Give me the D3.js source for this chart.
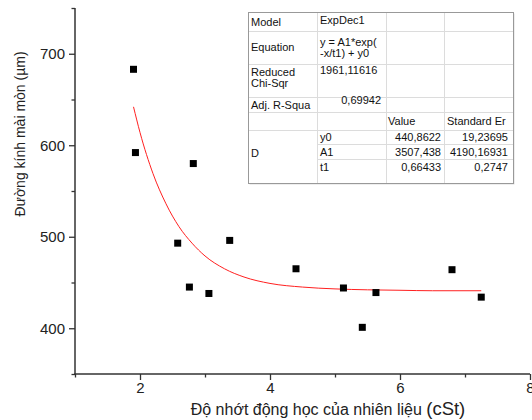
<!DOCTYPE html>
<html><head><meta charset="utf-8">
<script src="https://cdn.jsdelivr.net/npm/d3@7"></script>
<style>body{margin:0;background:#fff;}svg{display:block;font-family:"Liberation Sans",Arial,sans-serif;}</style>
</head><body>
<svg id="c" width="532" height="420"></svg>
<script>
// Data points (viscosity cSt, wear scar diameter µm)
const xVals = [1.90, 1.93, 2.82, 2.58, 3.38, 2.76, 3.06, 4.40, 5.13, 5.63, 5.42, 6.80, 7.25];
const yVals = [683, 592, 580, 493, 496, 445, 438, 465, 444, 439, 401, 464, 434];
// Fitted ExpDec1 curve
const fitX = [1.9, 2.0, 2.2, 2.4, 2.6, 2.8, 3.0, 3.3, 3.6, 4.0, 4.5, 5.0, 5.5, 6.0, 6.5, 7.0, 7.25];
const fitY = [642, 614, 569, 536, 511, 493, 479, 465, 456, 449, 445, 443, 442, 441.5, 441, 441, 441];
const xMajor = [2, 4, 6, 8];
const xMinor = [1, 3, 5, 7];
const yMajor = [400, 500, 600, 700];
const yMinor = [350, 450, 550, 650, 750];
const xTitle = "Độ nhớt động học của nhiên liệu ";
const xTitleUnit = "(cSt)";
const yTitle = "Đường kính mài mòn (µm)";
// Fit result table
const tableCol1 = ["Model", "Equation", "Reduced\nChi-Sqr", "Adj. R-Squa", "", "D"];
const tableCol2 = ["ExpDec1", "y = A1*exp(\n-x/t1) + y0", "1961,11616", "0,69942"];
const paramNames = ["y0", "A1", "t1"];
const paramValues = ["440,8622", "3507,438", "0,66433"];
const paramErrors = ["19,23695", "4190,16931", "0,2747"];
const headerLabels = ["Value", "Standard Er"];

const svg = d3.select("#c");
const x = d3.scaleLinear().domain([1, 8]).range([75, 530]);
const y = d3.scaleLinear().domain([350, 750]).range([374, 8]);
const axisColor = "#333";

// fit line
const fit = fitX.map((v, i) => [v, fitY[i]]);
svg.append("path").datum(fit)
  .attr("d", d3.line().x(d => x(d[0])).y(d => y(d[1])).curve(d3.curveMonotoneX))
  .attr("fill", "none").attr("stroke", "#ff2020").attr("stroke-width", 1);

// points
const pts = xVals.map((v, i) => [v, yVals[i]]);
svg.append("g").selectAll("rect").data(pts).join("rect")
  .attr("x", d => x(d[0]) - 3.5).attr("y", d => y(d[1]) - 3.5)
  .attr("width", 7).attr("height", 7).attr("fill", "#000");

// axes
function styleAxis(g) {
  g.select(".domain").remove();
  g.selectAll("line").attr("stroke", axisColor).attr("stroke-width", 1.3);
  g.selectAll("text").attr("fill", "#222").attr("font-size", 15);
}
const gx = svg.append("g").attr("transform", "translate(0,374)");
gx.call(d3.axisBottom(x).tickValues(xMajor).tickSize(6).tickPadding(2).tickFormat(d3.format("d"))).call(styleAxis);
const gxm = svg.append("g").attr("transform", "translate(0,374)");
gxm.call(d3.axisBottom(x).tickValues(xMinor).tickSize(3.5).tickFormat("")).call(styleAxis);
const gy = svg.append("g").attr("transform", "translate(75,0)");
gy.call(d3.axisLeft(y).tickValues(yMajor).tickSize(6).tickPadding(4).tickFormat(d3.format("d"))).call(styleAxis);
const gym = svg.append("g").attr("transform", "translate(75,0)");
gym.call(d3.axisLeft(y).tickValues(yMinor).tickSize(3.5).tickFormat("")).call(styleAxis);
svg.append("line").attr("x1", 75).attr("x2", 75).attr("y1", y(750)).attr("y2", 374.6)
  .attr("stroke", axisColor).attr("stroke-width", 1.5);
svg.append("line").attr("x1", 74.3).attr("x2", 530).attr("y1", 374).attr("y2", 374)
  .attr("stroke", axisColor).attr("stroke-width", 1.5);

// axis titles
const xt = svg.append("text").attr("x", 328).attr("y", 415).attr("text-anchor", "middle")
  .attr("font-size", 16).attr("fill", "#222");
xt.append("tspan").text(xTitle);
xt.append("tspan").attr("font-size", 18.5).text(xTitleUnit);
svg.append("text").attr("transform", "translate(25,134) rotate(-90)").attr("text-anchor", "middle")
  .attr("font-size", 14).attr("fill", "#222").text(yTitle);

// table
const T = svg.append("g").attr("font-size", 11).attr("fill", "#111");
const colX = [248, 317, 386, 444, 513];
const rowY = [12, 31, 64, 97, 112, 130, 144, 159, 183];
T.append("rect").attr("x", colX[0] + 1.5).attr("y", rowY[0] + 1.5).attr("width", colX[4] - colX[0]).attr("height", rowY[8] - rowY[0])
  .attr("fill", "#ddd");
T.append("rect").attr("x", colX[0]).attr("y", rowY[0]).attr("width", colX[4] - colX[0]).attr("height", rowY[8] - rowY[0])
  .attr("fill", "#fff");
// horizontal lines
rowY.slice(1, 8).forEach((ry, i) => {
  const x0 = (i >= 5) ? colX[1] : colX[0];
  T.append("line").attr("x1", x0).attr("x2", colX[4]).attr("y1", ry + 0.5).attr("y2", ry + 0.5)
    .attr("stroke", "#dcdcdc").attr("stroke-width", 1);
});
colX.slice(1, 4).forEach(cx => {
  T.append("line").attr("x1", cx + 0.5).attr("x2", cx + 0.5).attr("y1", rowY[0]).attr("y2", rowY[8])
    .attr("stroke", "#dcdcdc").attr("stroke-width", 1);
});
T.append("rect").attr("x", colX[0] + 0.5).attr("y", rowY[0] + 0.5).attr("width", colX[4] - colX[0]).attr("height", rowY[8] - rowY[0])
  .attr("fill", "none").attr("stroke", "#999").attr("stroke-width", 1);

function multi(xx, yc, str, anchor) {
  const lines = str.split("\n");
  const lh = 11;
  const y0 = yc - (lines.length - 1) * lh / 2 + 4;
  lines.forEach((l, i) => T.append("text").attr("x", xx).attr("y", y0 + i * lh)
    .attr("text-anchor", anchor || "start").text(l));
}
const col1Centers = [22, 47, 77, 105, 121, 153];
tableCol1.forEach((t, i) => multi(colX[0] + 3, col1Centers[i], t));
const col2Centers = [20, 47, 70, 100];
tableCol2.forEach((t, i) => multi(i === 3 ? colX[2] - 5 : colX[1] + 3, col2Centers[i], t, i === 3 ? "end" : "start"));
multi(colX[2] + 2, 121, headerLabels[0]);
multi(colX[3] + 3, 121, headerLabels[1]);
const pCenters = [137, 151.5, 166.5];
paramNames.forEach((t, i) => {
  multi(colX[1] + 3, pCenters[i], t);
  multi(colX[3] - 3, pCenters[i], paramValues[i], "end");
  multi(colX[4] - 5, pCenters[i], paramErrors[i], "end");
});
</script>
</body></html>
